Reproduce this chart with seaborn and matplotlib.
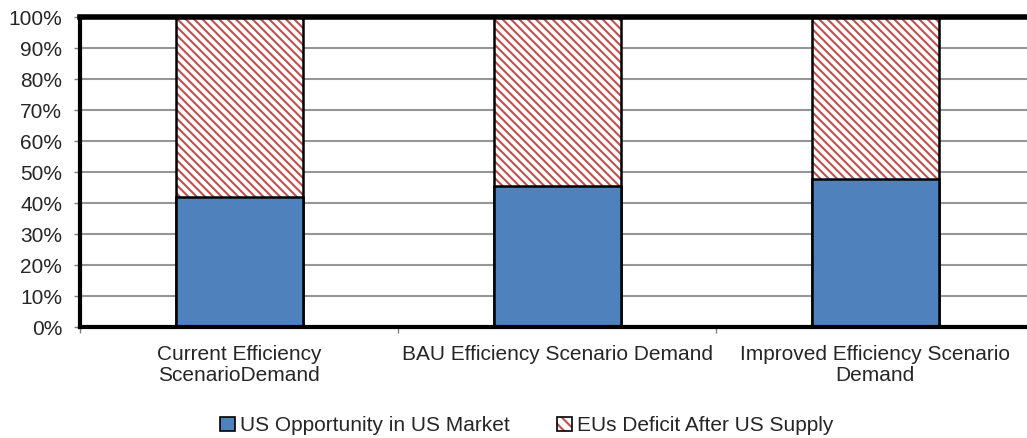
import pandas as pd
import seaborn as sns
import matplotlib.pyplot as plt
from matplotlib.patches import Patch
from matplotlib.legend_handler import HandlerTuple
from matplotlib.ticker import FuncFormatter, FixedLocator

scenarios = ["Current Efficiency\nScenarioDemand",
             "BAU Efficiency Scenario Demand",
             "Improved Efficiency Scenario\nDemand"]
us_opportunity = [42.0, 45.5, 47.8]
eu_deficit = [58.0, 54.5, 52.2]
series_names = ["US Opportunity in US Market", "EUs Deficit After US Supply"]

blue = "#4F81BD"
red = "#C0504D"
hatch = "\\" * 4

sns.set_theme(style="white")
plt.rcParams['font.family'] = ['Liberation Sans', 'DejaVu Sans']
plt.rcParams['hatch.linewidth'] = 1.5

df = pd.DataFrame({"scenario": scenarios, "us": us_opportunity, "eu": eu_deficit})
df["total"] = df["us"] + df["eu"]

fig = plt.figure(figsize=(10.27, 4.38), dpi=100)
ax = fig.add_axes([0.078, 0.253, 0.929, 0.708])

# hatched part: full stack height, hatch colour follows edgecolor
sns.barplot(data=df, x="scenario", y="total", color="white", width=0.4, ax=ax)
hatched = list(ax.patches)
for p in hatched:
    p.set_facecolor("white")
    p.set_edgecolor(red)
    p.set_hatch(hatch)
    p.set_linewidth(0)

# black outline around the whole stack
sns.barplot(data=df, x="scenario", y="total", color="white", width=0.4, ax=ax)
outline = [p for p in ax.patches if p not in hatched]
for p in outline:
    p.set_facecolor("none")
    p.set_edgecolor("black")
    p.set_linewidth(1.8)

# blue bottom part
sns.barplot(data=df, x="scenario", y="us", color=blue, width=0.4, ax=ax)
for p in ax.patches:
    if p not in hatched and p not in outline:
        p.set_facecolor(blue)
        p.set_edgecolor("black")
        p.set_linewidth(1.8)

ax.set_ylim(0, 100)
ax.set_xlim(-0.5, 2.5)
ax.set_yticks(range(0, 101, 10))
ax.yaxis.set_major_formatter(FuncFormatter(lambda v, _: f"{int(v)}%"))
ax.grid(axis="y", color="#969696", linewidth=1.5)
ax.set_axisbelow(True)
ax.set_xlabel("")
ax.set_ylabel("")

ax.tick_params(axis="y", labelsize=15, length=4, width=1, color="#808080",
               pad=9, left=True)
ax.tick_params(axis="x", which="major", labelsize=15, length=0, pad=13)
ax.xaxis.set_minor_locator(FixedLocator([-0.5, 0.5, 1.5, 2.5]))
ax.tick_params(axis="x", which="minor", length=4, width=1, color="#808080",
               bottom=True)
for lbl in ax.get_xticklabels():
    lbl.set_linespacing(1.1)

for side in ["top", "left", "bottom", "right"]:
    ax.spines[side].set_color("black")
ax.spines["top"].set_linewidth(4)
ax.spines["left"].set_linewidth(3)
ax.spines["bottom"].set_linewidth(3)
ax.spines["right"].set_linewidth(3)

h_us = Patch(facecolor=blue, edgecolor="black", linewidth=1.2)
h_eu = (Patch(facecolor="white", edgecolor=red, hatch="\\\\\\", linewidth=0),
        Patch(facecolor="none", edgecolor="black", linewidth=1.2))
fig.legend([h_us, h_eu], series_names, loc="center", bbox_to_anchor=(0.513, 0.028),
           ncol=2, frameon=False, fontsize=15, handlelength=0.7, handleheight=0.7,
           handletextpad=0.25, columnspacing=2.3,
           handler_map={tuple: HandlerTuple(ndivide=1, pad=0)})

fig.savefig("out.png", dpi=100)
